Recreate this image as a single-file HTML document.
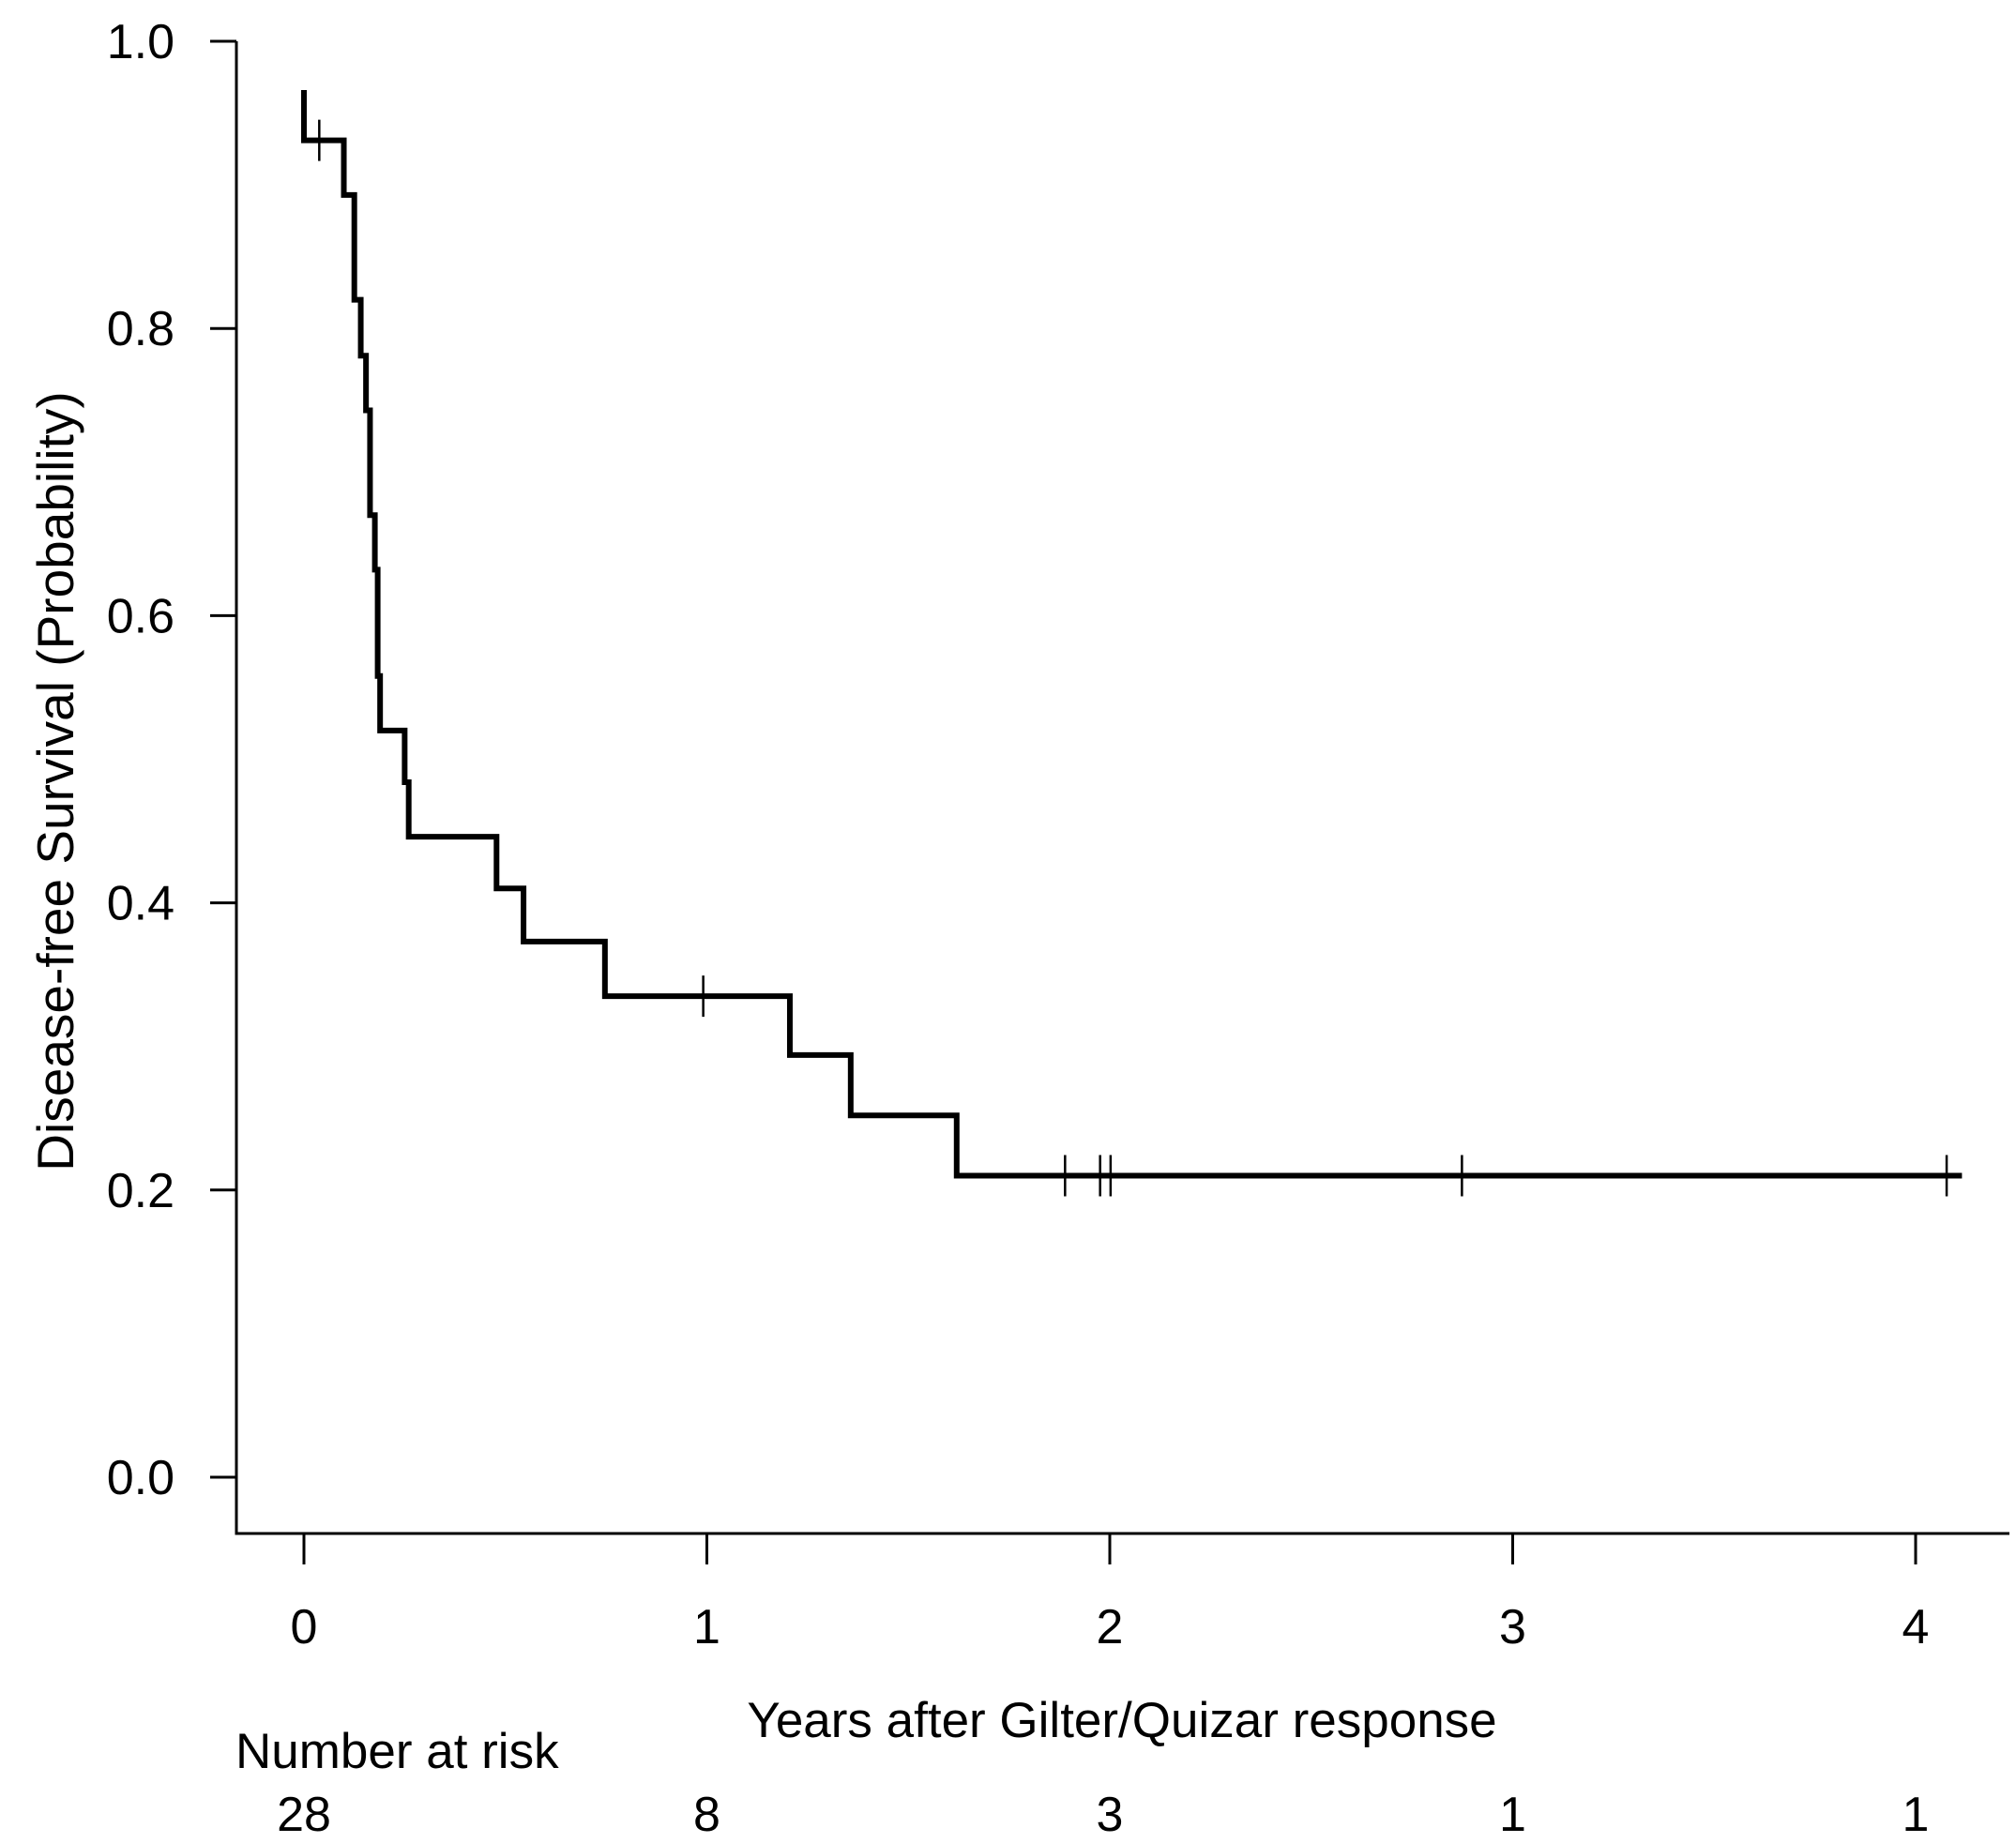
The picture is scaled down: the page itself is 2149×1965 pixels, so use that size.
<!DOCTYPE html>
<html><head><meta charset="utf-8"><style>
html,body{margin:0;padding:0;background:#fff}
svg{display:block;font-family:"Liberation Sans",Arial,sans-serif}
</style></head><body>
<svg id="chart" width="2149" height="1965" viewBox="0 0 2149 1965" xmlns="http://www.w3.org/2000/svg">
<rect width="2149" height="1965" fill="#fff"/>
<g id="axes"></g>
<g id="curve"></g>
<text x="0" y="0" transform="translate(78,833) rotate(-90)" text-anchor="middle" font-size="55" fill="#000">Disease-free Survival (Probability)</text>
<text x="1196" y="1852" text-anchor="middle" font-size="53" fill="#000">Years after Gilter/Quizar response</text>
<text x="251" y="1885" font-size="53" fill="#000">Number at risk</text>
</svg>
<script>
const yTicks=[0,0.2,0.4,0.6,0.8,1.0];
const yTickLabels=["0.0","0.2","0.4","0.6","0.8","1.0"];
const xTicks=[0,1,2,3,4];
const riskTimes=[0,1,2,3,4];
const riskCounts=[28,8,3,1,1];
const startSurv=0.966;
const stepTimes=[0,0.099,0.125,0.141,0.154,0.164,0.176,0.183,0.189,0.25,0.26,0.478,0.545,0.747,1.206,1.357,1.62];
const stepSurv=[0.931,0.893,0.82,0.781,0.743,0.670,0.632,0.558,0.52,0.484,0.446,0.41,0.373,0.335,0.294,0.252,0.21];
const censorTimes=[0.038,0.991,1.889,1.976,2.002,2.874,4.077];
const endTime=4.115;

const NS="http://www.w3.org/2000/svg";
const X0=324,X4=2042,Y0=1575,Y1=44;
const sx=t=>X0+(X4-X0)*t/4;
const sy=v=>Y0-(Y0-Y1)*v;
function mk(tag,attrs,parent){const e=document.createElementNS(NS,tag);for(const k in attrs)e.setAttribute(k,attrs[k]);parent.appendChild(e);return e;}
const axes=document.getElementById('axes');
const yAxis=mk('path',{d:`M252,${Y1} L252,1635 L2142,1635`,stroke:'#000','stroke-width':3,fill:'none'},axes);


yTicks.forEach((v,i)=>{
  const t=mk('line',{x1:224,x2:252,y1:sy(v),y2:sy(v),stroke:'#000','stroke-width':3},axes);
  
  
  const l=mk('text',{x:186,y:sy(v)+18,'text-anchor':'end','font-size':52,fill:'#000'},axes);
  l.textContent=yTickLabels[i];
  
  
});
xTicks.forEach(v=>{
  const t=mk('line',{x1:sx(v),x2:sx(v),y1:1635,y2:1668,stroke:'#000','stroke-width':3},axes);
  
  
  const l=mk('text',{x:sx(v),y:1752,'text-anchor':'middle','font-size':52,fill:'#000'},axes);
  l.textContent=String(v);
  
  
});
riskTimes.forEach((t,i)=>{
  const l=mk('text',{x:sx(t),y:1952,'text-anchor':'middle','font-size':52,fill:'#000'},axes);
  l.textContent=String(riskCounts[i]);
  
  
});
const cg=document.getElementById('curve');
let d=`M${sx(0)},${sy(startSurv)}`;let cur=startSurv;
stepTimes.forEach((t,i)=>{d+=` L${sx(t)},${sy(cur)} L${sx(t)},${sy(stepSurv[i])}`;cur=stepSurv[i];});
d+=` L${sx(endTime)},${sy(cur)}`;
const p=mk('path',{d:d,stroke:'#000','stroke-width':6,fill:'none','stroke-linejoin':'miter'},cg);


function survAt(t){let s=startSurv;stepTimes.forEach((st,i)=>{if(st<=t)s=stepSurv[i];});return s;}
censorTimes.forEach(t=>{
  const y=sy(survAt(t));
  const c=mk('line',{x1:sx(t),x2:sx(t),y1:y-22,y2:y+22,stroke:'#000','stroke-width':2.5},cg);
  
  
});
</script>
</body></html>
